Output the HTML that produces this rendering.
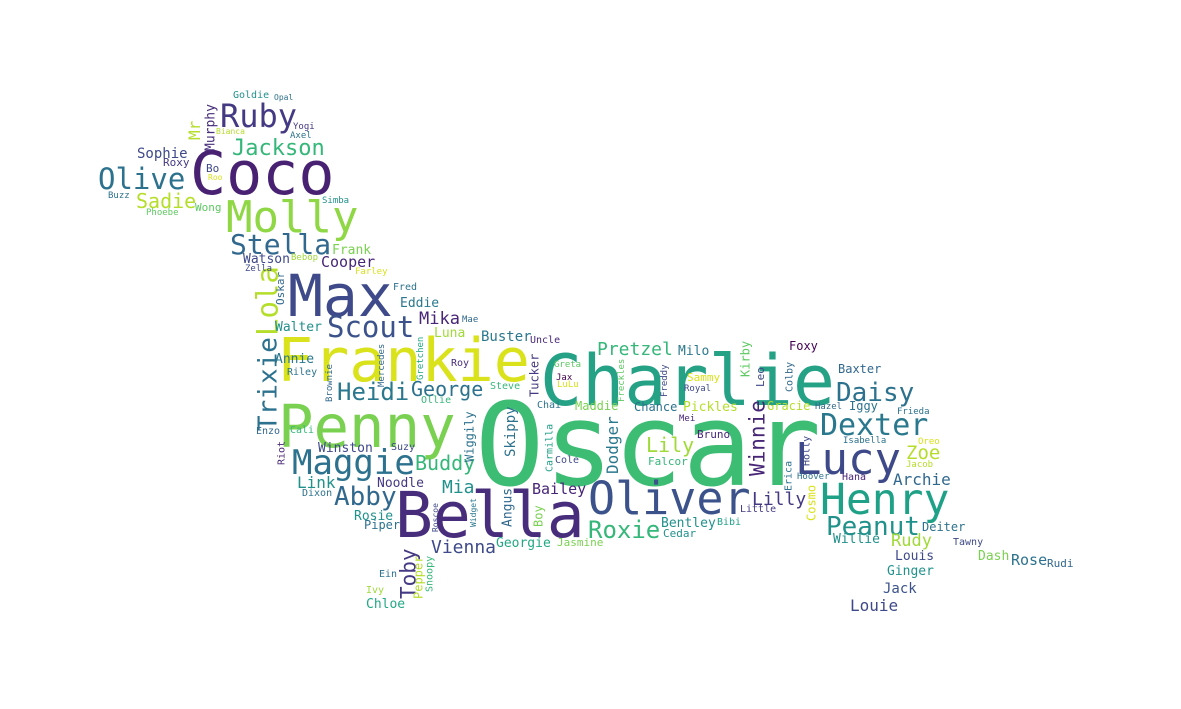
<!DOCTYPE html>
<html><head><meta charset="utf-8">
<style>
html,body{margin:0;padding:0;background:#fff;width:1181px;height:709px;overflow:hidden}
svg text{font-family:"DejaVu Sans Mono","Liberation Mono",monospace}
</style></head>
<body>
<svg id="cloud" width="1181" height="709" viewBox="0 0 1181 709" xmlns="http://www.w3.org/2000/svg"></svg>
<script>
// word, font size (frequency weight)
const words = ["Oscar","Charlie","Frankie","Penny","Bella","Coco","Max","Molly","Oliver","Henry","Lucy","Maggie","Ruby","Stella","Scout","Olive","Jackson","Dexter","Daisy","Peanut","Pretzel","Heidi","George","Abby","Roxie","Lily","Buddy","Mia","Lilly","Archie","Zoe","Rudy","Louis","Ginger","Jack","Louie","Rose","Rudi","Dash","Deiter","Tawny","Willie","Bentley","Bibi","Cedar","Georgie","Jasmine","Vienna","Bailey","Angus","Boy","Toby","Pepper","Snoopy","Ein","Ivy","Chloe","Piper","Rosie","Link","Dixon","Noodle","Winston","Suzy","Riot","Cali","Enzo","Trixie","Lola","Oskar","Walter","Annie","Riley","Brownie","Mercedes","Gretchen","Ollie","Roy","Luna","Mika","Mae","Eddie","Fred","Farley","Cooper","Frank","Watson","Bebop","Zella","Simba","Sadie","Phoebe","Wong","Buzz","Sophie","Roxy","Bo","Roo","Mr","Murphy","Goldie","Opal","Yogi","Bianca","Axel","Buster","Uncle","Steve","Tucker","Chai","Greta","Jax","LuLu","Maddie","Chance","Pickles","Freckles","Freddy","Milo","Sammy","Royal","Kirby","Leo","Colby","Foxy","Baxter","Iggy","Hazel","Gracie","Frieda","Isabella","Oreo","Jacob","Hana","Hoover","Erica","Holly","Cosmo","Winnie","Bruno","Mei","Falcor","Dodger","Carmilla","Cole","Skippy","Wiggily","Widget","Roscoe","Little"];
const sizes = [115,70,60,59,63,60,58,44,45,43,44,34,32,28,29,29,22,30,26,26,18,24,20,26,24,20,20,18,18,16,19,17,13,13,14,16,15,11,13,12,10,13,13,10,11,13,11,18,15,13,12,21,12,10,10,10,13,12,13,16,10,13,13,10,10,10,10,26,29,11,13,13,10,9,9,9,10,10,13,17,9,13,10,9,15,13,13,9,9,9,20,9,11,9,14,11,11,8,16,13,10,8,9,8,9,14,10,10,12,10,9,9,9,12,12,13,9,9,13,11,9,12,11,10,12,12,12,9,12,9,9,9,9,10,9,10,10,12,21,11,9,11,16,10,10,14,12,8,8,10];
// layout: [x, y, vertical] horizontal: left x + baseline y; vertical: center x + bottom y
const layout = [[475,485,0],[540,405,0],[277,381,0],[278,447,0],[395,537,0],[190,194,0],[288,316,0],[226,232,0],[588,514,0],[820,514,0],[795,474,0],[292,474,0],[220,127,0],[230,254,0],[327,337,0],[98,189,0],[232,155,0],[820,435,0],[836,401,0],[826,535,0],[597,355,0],[337,400,0],[411,396,0],[334,505,0],[588,538,0],[646,452,0],[415,470,0],[442,493,0],[752,505,0],[893,485,0],[906,459,0],[891,546,0],[895,560,0],[887,575,0],[883,593,0],[850,611,0],[1011,565,0],[1047,567,0],[978,560,0],[922,531,0],[953,545,0],[833,543,0],[661,527,0],[717,525,0],[663,537,0],[496,547,0],[557,546,0],[431,553,0],[532,494,0],[507,527,1],[538,527,1],[408,599,1],[418,599,1],[429,592,1],[379,577,0],[366,593,0],[366,608,0],[364,529,0],[354,520,0],[297,488,0],[302,496,0],[377,487,0],[318,452,0],[391,450,0],[281,465,1],[290,433,0],[256,434,0],[267,431,1],[267,336,1],[280,305,1],[275,331,0],[275,363,0],[287,375,0],[329,402,1],[381,387,1],[420,380,1],[421,403,0],[451,366,0],[434,337,0],[419,324,0],[462,322,0],[400,307,0],[393,290,0],[355,274,0],[321,267,0],[332,254,0],[243,263,0],[291,260,0],[245,271,0],[322,203,0],[136,208,0],[146,215,0],[195,211,0],[108,198,0],[137,158,0],[163,166,0],[206,172,0],[208,180,0],[194,140,1],[210,151,1],[233,98,0],[274,100,0],[293,129,0],[216,134,0],[290,138,0],[481,341,0],[530,343,0],[490,389,0],[534,397,1],[537,408,0],[554,367,0],[556,380,0],[557,387,0],[575,410,0],[634,411,0],[683,411,0],[621,402,1],[664,397,1],[678,355,0],[687,381,0],[684,391,0],[745,377,1],[760,387,1],[789,392,1],[789,350,0],[838,373,0],[849,410,0],[815,409,0],[767,410,0],[897,414,0],[843,443,0],[918,444,0],[906,467,0],[842,480,0],[797,479,0],[788,491,1],[806,466,1],[811,521,1],[757,476,1],[697,438,0],[679,421,0],[648,465,0],[612,474,1],[549,472,1],[555,463,0],[510,457,1],[469,462,1],[473,527,1],[435,532,1],[740,512,0]];
const colors = ["#3dbc74","#25a186","#d9e21a","#7ad151","#472d7b","#482173","#3e4a89","#8fd744","#3b528b","#1fa187","#3e4989","#2c728e","#443983","#31688e","#3b528b","#2c728e","#35b779","#2a788e","#2c728e","#21918c","#35b779","#2a788e","#2c728e","#31688e","#35b779","#a0da39","#35b779","#21918c","#443983","#31688e","#b5de2b","#a0da39","#3e4989","#21918c","#3b528b","#3e4989","#2c728e","#31688e","#7ad151","#2c728e","#3e4989","#21918c","#21918c","#1fa187","#21918c","#22a884","#7ad151","#3e4a89","#482677","#31688e","#7ad151","#443983","#b5de2b","#35b779","#2c728e","#a0da39","#22a884","#2c728e","#21918c","#21918c","#2c728e","#443983","#3e4989","#3e4989","#482677","#35b779","#31688e","#2c728e","#b5de2b","#31688e","#21918c","#2a788e","#2c728e","#31688e","#31688e","#22a884","#35b779","#472d7b","#a0da39","#482677","#31688e","#2a788e","#2c728e","#d9e21a","#482677","#7ad151","#3e4989","#a0da39","#3e4989","#21918c","#b5de2b","#5ec962","#5ec962","#2c728e","#3e4989","#443983","#3e4989","#d9e21a","#b5de2b","#472d7b","#21918c","#2c728e","#443983","#b5de2b","#2c728e","#2a788e","#482677","#35b779","#443983","#2c728e","#5ec962","#440154","#d9e21a","#7ad151","#2c728e","#b5de2b","#5ec962","#3e4989","#2a788e","#d9e21a","#3e4989","#5ec962","#3e4989","#31688e","#440154","#31688e","#2c728e","#31688e","#b5de2b","#2c728e","#2c728e","#d9e21a","#b5de2b","#482677","#2c728e","#2c728e","#3e4989","#d9e21a","#482677","#482677","#482677","#35b779","#2a788e","#1fa187","#3e4989","#2c728e","#2c728e","#2a788e","#3e4989","#443983"];
const svg = document.getElementById('cloud');
const NS = 'http://www.w3.org/2000/svg';
words.forEach((w, i) => {
  const [x, y, v] = layout[i];
  const t = document.createElementNS(NS, 'text');
  t.textContent = w;
  t.setAttribute('font-size', sizes[i]);
  t.setAttribute('fill', colors[i]);
  if (v) {
    const bx = x + 0.36 * sizes[i];
    t.setAttribute('x', bx);
    t.setAttribute('y', y);
    t.setAttribute('transform', 'rotate(-90 ' + bx + ' ' + y + ')');
  } else {
    t.setAttribute('x', x);
    t.setAttribute('y', y);
  }
  
  
  svg.appendChild(t);
});
</script>
</body></html>
